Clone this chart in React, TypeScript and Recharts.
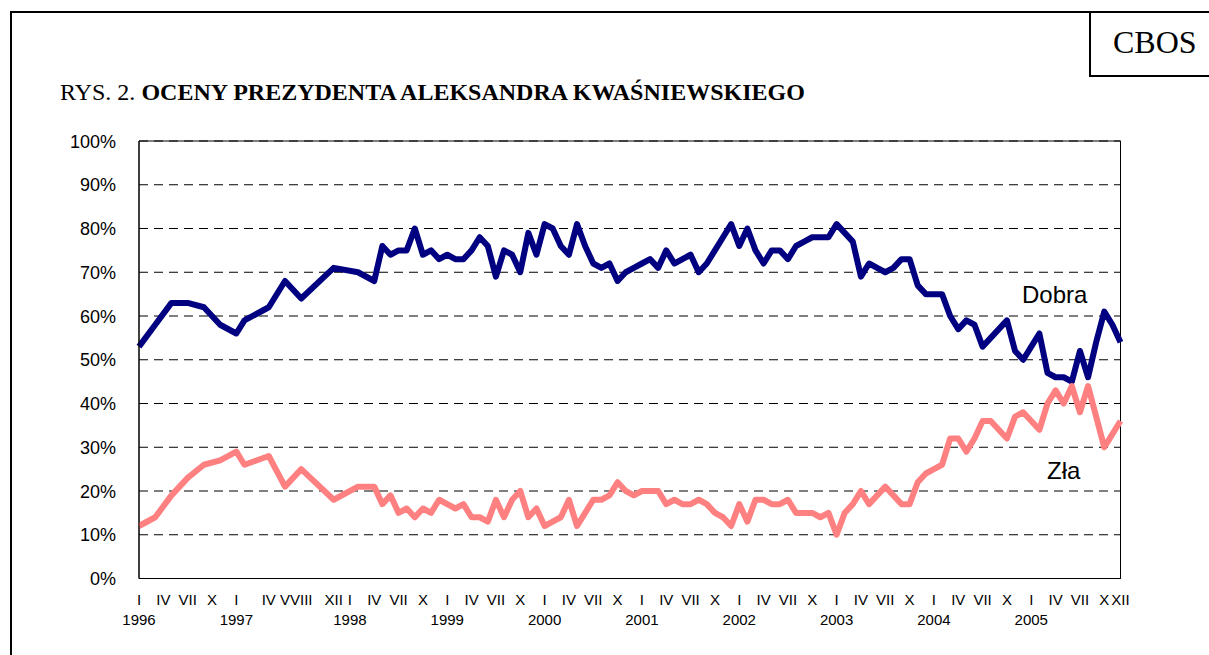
import React from 'react';
import { LineChart, Line, XAxis, YAxis, CartesianGrid, ReferenceArea } from 'recharts';

// one row per survey slot; null = no survey in that slot (line is joined across it)
const monthLabels = [
  'I', '', '', 'IV', '', '', 'VII', '', '', 'X', '', '', // 1996
  'I', '', '', '', 'IV', '', 'V', '', 'VIII', '', '', '', 'XII', '', // 1997
  'I', '', '', 'IV', '', '', 'VII', '', '', 'X', '', '', // 1998
  'I', '', '', 'IV', '', '', 'VII', '', '', 'X', '', '', // 1999
  'I', '', '', 'IV', '', '', 'VII', '', '', 'X', '', '', // 2000
  'I', '', '', 'IV', '', '', 'VII', '', '', 'X', '', '', // 2001
  'I', '', '', 'IV', '', '', 'VII', '', '', 'X', '', '', // 2002
  'I', '', '', 'IV', '', '', 'VII', '', '', 'X', '', '', // 2003
  'I', '', '', 'IV', '', '', 'VII', '', '', 'X', '', '', // 2004
  'I', '', '', 'IV', '', '', 'VII', '', '', 'X', '', 'XII', // 2005
];

const years = ['1996', '1997', '1998', '1999', '2000', '2001', '2002', '2003', '2004', '2005'];
const rowsPerYear = [12, 14, 12, 12, 12, 12, 12, 12, 12, 12];

const dobra = [
  53, null, 58, null, 63, null, 63, null, 62, null, 58, null,
  56, 59, null, null, 62, null, 68, null, 64, null, null, null, 71, null,
  null, 70, null, 68, 76, 74, 75, 75, 80, 74, 75, 73,
  74, 73, 73, 75, 78, 76, 69, 75, 74, 70, 79, 74,
  81, 80, 76, 74, 81, 76, 72, 71, 72, 68, 70, 71,
  72, 73, 71, 75, 72, 73, 74, 70, 72, 75, 78, 81,
  76, 80, 75, 72, 75, 75, 73, 76, 77, 78, 78, 78,
  81, 79, 77, 69, 72, 71, 70, 71, 73, 73, 67, 65,
  65, 65, 60, 57, 59, 58, 53, 55, 57, 59, 52, 50,
  53, 56, 47, 46, 46, 45, 52, 46, 54, 61, 58, 54,
];

const zla = [
  12, null, 14, null, 19, null, 23, null, 26, null, 27, null,
  29, 26, null, null, 28, null, 21, null, 25, null, null, null, 18, null,
  null, 21, null, 21, 17, 19, 15, 16, 14, 16, 15, 18,
  17, 16, 17, 14, 14, 13, 18, 14, 18, 20, 14, 16,
  12, 13, 14, 18, 12, 15, 18, 18, 19, 22, 20, 19,
  20, 20, 20, 17, 18, 17, 17, 18, 17, 15, 14, 12,
  17, 13, 18, 18, 17, 17, 18, 15, 15, 15, 14, 15,
  10, 15, 17, 20, 17, 19, 21, 19, 17, 17, 22, 24,
  25, 26, 32, 32, 29, 32, 36, 36, 34, 32, 37, 38,
  36, 34, 40, 43, 40, 44, 38, 44, 37, 30, 33, 36,
];

const yearAtRow: Record<number, string> = {};
let start = 0;
years.forEach((y, k) => {
  yearAtRow[start] = y;
  start += rowsPerYear[k];
});

const data = monthLabels.map((m, i) => ({
  i,
  month: m,
  dobra: dobra[i],
  zla: zla[i],
}));

const tickRows = data.filter((d) => d.month !== '').map((d) => d.i);
const yTicks = [0, 10, 20, 30, 40, 50, 60, 70, 80, 90, 100];

const SANS = '"Liberation Sans", Arial, sans-serif';
const SERIF = '"Liberation Serif", "Times New Roman", serif';

const MonthTick = (props: any) => {
  const { x, payload } = props;
  const idx = payload.value as number;
  return (
    <g>
      <text x={x} y={605} textAnchor="middle" fontSize={15} fontFamily={SANS} fill="#000">
        {monthLabels[idx]}
      </text>
      {yearAtRow[idx] && (
        <text x={x} y={625} textAnchor="middle" fontSize={15} fontFamily={SANS} fill="#000">
          {yearAtRow[idx]}
        </text>
      )}
    </g>
  );
};

const PercentTick = (props: any) => {
  const { y, payload } = props;
  return (
    <text x={116} y={y + 6.5} textAnchor="end" fontSize={18} fontFamily={SANS} fill="#000">
      {payload.value + '%'}
    </text>
  );
};

export default function App() {
  return (
    <div style={{ position: 'absolute', left: 0, top: 0, width: 1209, height: 655, background: '#fff', overflow: 'hidden' }}>
      <LineChart
        width={1209}
        height={655}
        data={data}
        margin={{ top: 141, right: 88.5, left: 0, bottom: 0 }}
      >
        <CartesianGrid horizontal vertical={false} stroke="#000" strokeDasharray="9 6" />
        <ReferenceArea x1={0} x2={121} y1={0} y2={100} fill="none" stroke="#000" strokeWidth={1} />
        <XAxis
          dataKey="i"
          type="number"
          domain={[0, 121]}
          ticks={tickRows}
          interval={0}
          tickLine={false}
          axisLine={{ stroke: '#000' }}
          height={76.5}
          tick={<MonthTick />}
        />
        <YAxis
          type="number"
          domain={[0, 100]}
          ticks={yTicks}
          interval={0}
          width={139}
          tickLine={false}
          axisLine={{ stroke: '#000' }}
          tick={<PercentTick />}
        />
        <Line
          dataKey="dobra"
          stroke="#000080"
          strokeWidth={6}
          dot={false}
          connectNulls
          strokeLinejoin="round"
          isAnimationActive={false}
        />
        <Line
          dataKey="zla"
          stroke="#FF8080"
          strokeWidth={6}
          dot={false}
          connectNulls
          strokeLinejoin="round"
          isAnimationActive={false}
        />
      </LineChart>
      <svg
        width={1209}
        height={655}
        style={{ position: 'absolute', left: 0, top: 0, pointerEvents: 'none' }}
      >
        <path d="M11,655 L11,12 L1209,12" fill="none" stroke="#000" strokeWidth={2} />
        <path d="M1090,12 L1090,76 L1209,76" fill="none" stroke="#000" strokeWidth={2} />
        <text x={1113} y={53} fontSize={32} fontFamily={SERIF} fill="#000">CBOS</text>
        <text x={60} y={100} fontSize={24} fontFamily={SERIF} fill="#000">
          RYS. 2. <tspan fontWeight="bold">OCENY PREZYDENTA ALEKSANDRA KWAŚNIEWSKIEGO</tspan>
        </text>
        <text x={1022} y={303} fontSize={24} fontFamily={SANS} fill="#000">Dobra</text>
        <text x={1047} y={479} fontSize={24} fontFamily={SANS} fill="#000">Zła</text>
      </svg>
    </div>
  );
}
